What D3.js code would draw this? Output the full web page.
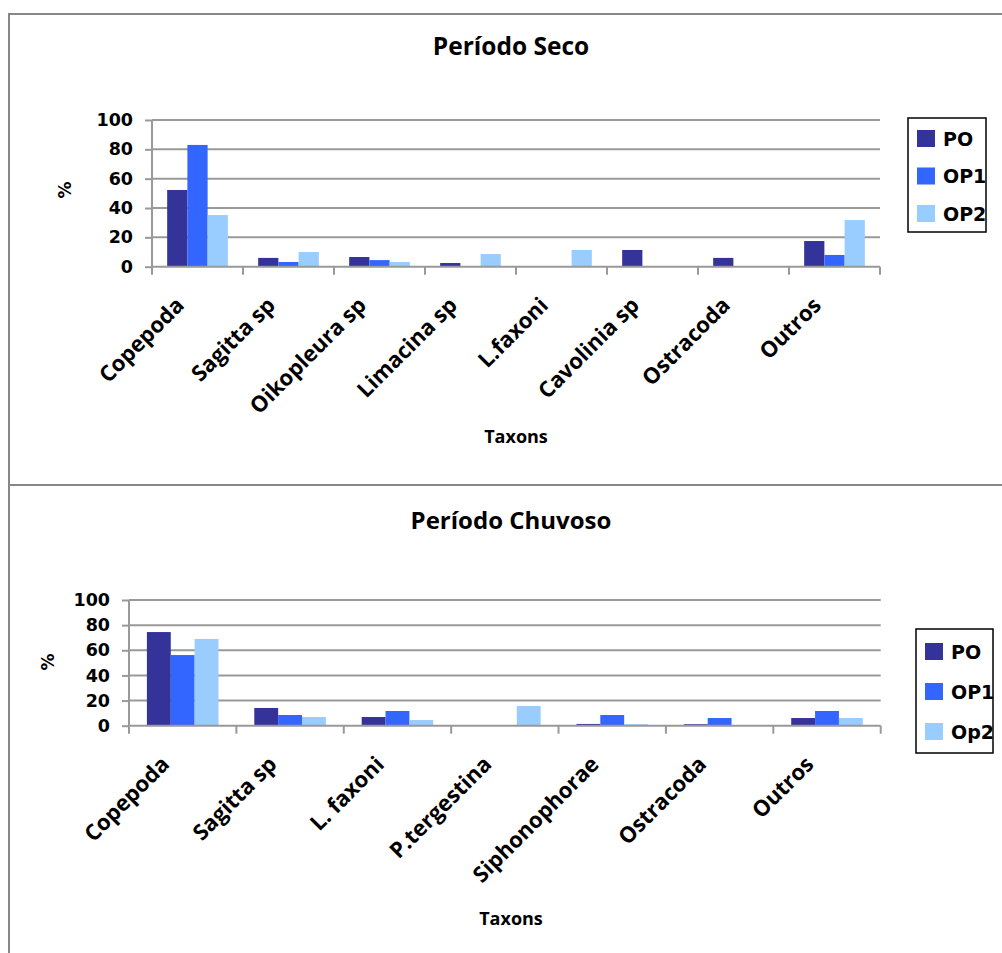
<!DOCTYPE html>
<html>
<head>
<meta charset="utf-8">
<script src="https://cdn.jsdelivr.net/npm/d3@7/dist/d3.min.js"></script>
<style>
  html, body { margin: 0; padding: 0; background: #fff; }
  svg { display: block; }
  .tick-label { font-family: "DejaVu Sans", Verdana, sans-serif; font-weight: bold; }
  .cat-label { font-family: "Open Sans", sans-serif; font-weight: bold; }
  .title { font-family: "Open Sans", sans-serif; font-weight: bold; }
</style>
</head>
<body>
<svg id="chart" width="1002" height="953"></svg>
<script>
// Dry season (Período Seco)
const taxonsSeco = ["Copepoda", "Sagitta sp", "Oikopleura sp", "Limacina sp", "L.faxoni", "Cavolinia sp", "Ostracoda", "Outros"];
const poSeco  = [52.3, 6.0, 6.6, 2.5, 0, 11.4, 6.0, 17.5];
const op1Seco = [83.0, 3.2, 4.5, 0, 0, 0, 0, 8.0];
const op2Seco = [35.2, 10.0, 3.2, 8.6, 11.4, 0, 0, 31.8];
const seriesSeco = ["PO", "OP1", "OP2"];

// Rainy season (Período Chuvoso)
const taxonsChuvoso = ["Copepoda", "Sagitta sp", "L. faxoni", "P.tergestina", "Siphonophorae", "Ostracoda", "Outros"];
const poChuvoso  = [74.5, 14.1, 6.9, 0, 1.4, 1.2, 6.1];
const op1Chuvoso = [56.2, 8.5, 11.7, 0, 8.5, 6.1, 11.7];
const op2Chuvoso = [69.0, 6.9, 4.5, 15.7, 1.2, 0, 6.1];
const seriesChuvoso = ["PO", "OP1", "Op2"];

const yTicks = [0, 20, 40, 60, 80, 100];
const colors = ["#333399", "#3366FF", "#99CCFF"];

const svg = d3.select("#chart");
const gridColor = "#999";

// outer frame lines of the two stacked chart areas
svg.append("line").attr("x1", 9).attr("x2", 9).attr("y1", 13).attr("y2", 953)
  .attr("stroke", "#888").attr("stroke-width", 2);
svg.append("line").attr("x1", 8).attr("x2", 1002).attr("y1", 14).attr("y2", 14)
  .attr("stroke", "#888").attr("stroke-width", 2);
svg.append("line").attr("x1", 8).attr("x2", 1002).attr("y1", 485).attr("y2", 485)
  .attr("stroke", "#888").attr("stroke-width", 2);

function drawPanel(cfg) {
  const g = svg.append("g");
  const seriesValues = cfg.values;
  const rows = cfg.categories.map((c, i) => ({
    category: c,
    vals: cfg.series.map((s, j) => ({ key: s, idx: j, value: seriesValues[j][i] }))
  }));

  const x = d3.scaleBand().domain(cfg.categories).range([cfg.left, cfg.right]).padding(0);
  const xInner = d3.scaleBand().domain(cfg.series).range([0, x.bandwidth()])
    .paddingInner(0).paddingOuter(0.75);
  const y = d3.scaleLinear().domain([0, 100]).range([cfg.bottom, cfg.top]);

  // horizontal gridlines
  g.selectAll("line.grid").data(yTicks.filter(t => t > 0)).enter().append("line")
    .attr("x1", cfg.left).attr("x2", cfg.right)
    .attr("y1", d => y(d)).attr("y2", d => y(d))
    .attr("stroke", gridColor).attr("stroke-width", 2);

  // bars
  const groups = g.selectAll("g.cat").data(rows).enter().append("g")
    .attr("transform", d => `translate(${x(d.category)},0)`);
  groups.selectAll("rect").data(d => d.vals).enter().append("rect")
    .attr("x", d => xInner(d.key))
    .attr("width", xInner.bandwidth())
    .attr("y", d => y(d.value))
    .attr("height", d => y(0) - y(d.value))
    .attr("fill", d => colors[d.idx]);

  // y axis
  const yAxis = d3.axisLeft(y).tickValues(yTicks).tickSize(7).tickPadding(12);
  const ya = g.append("g").attr("transform", `translate(${cfg.left},0)`).call(yAxis);
  ya.select(".domain").attr("stroke", gridColor).attr("stroke-width", 2)
    .attr("d", `M0,${cfg.top}V${cfg.bottom}`);
  ya.selectAll(".tick line").attr("stroke", gridColor).attr("stroke-width", 2);
  ya.selectAll(".tick text").attr("class", "tick-label").attr("font-size", 17.5)
    .attr("fill", "#000");

  // x axis line and category boundary ticks
  g.append("line").attr("x1", cfg.left).attr("x2", cfg.right)
    .attr("y1", y(0)).attr("y2", y(0)).attr("stroke", gridColor).attr("stroke-width", 2);
  const bounds = cfg.categories.map(c => x(c)).concat([cfg.right]);
  g.selectAll("line.xt").data(bounds).enter().append("line")
    .attr("x1", d => d).attr("x2", d => d)
    .attr("y1", y(0)).attr("y2", y(0) + 8)
    .attr("stroke", gridColor).attr("stroke-width", 2);

  // rotated category labels
  g.selectAll("text.cat").data(cfg.categories).enter().append("text")
    .attr("class", "cat-label")
    .attr("font-size", 22)
    .attr("text-anchor", "end")
    .attr("transform", d => `translate(${x(d) + x.bandwidth() / 2 - 12},${y(0) + 40}) rotate(-45)`)
    .text(d => d);

  // title
  g.append("text").attr("class", "title").attr("font-size", cfg.titleSize)
    .attr("text-anchor", "middle").attr("x", 511).attr("y", cfg.titleY).text(cfg.title);

  // axis titles
  g.append("text").attr("class", "title").attr("font-size", 18)
    .attr("text-anchor", "middle").attr("x", cfg.xTitleX).attr("y", cfg.xTitleY).text("Taxons");
  g.append("text").attr("class", "tick-label").attr("font-size", 17)
    .attr("text-anchor", "middle")
    .attr("transform", `translate(${cfg.pctX + 6},${cfg.pctY}) rotate(-90)`).text("%");

  // legend
  const lg = g.append("g");
  lg.append("rect").attr("x", cfg.legend.x).attr("y", cfg.legend.y)
    .attr("width", cfg.legend.w).attr("height", cfg.legend.h)
    .attr("fill", "#fff").attr("stroke", "#000").attr("stroke-width", 1.5);
  const items = lg.selectAll("g.item").data(cfg.series).enter().append("g")
    .attr("transform", (d, i) => `translate(${cfg.legend.x + 9},${cfg.legend.y + cfg.legend.first + i * cfg.legend.step})`);
  items.append("rect").attr("width", 18).attr("height", 17)
    .attr("fill", (d, i) => colors[i]);
  items.append("text").attr("class", "tick-label").attr("font-size", 19)
    .attr("x", 26).attr("y", 15.5).attr("fill", "#000").text(d => d);
}

drawPanel({
  categories: taxonsSeco, series: seriesSeco, values: [poSeco, op1Seco, op2Seco],
  left: 152, right: 880, top: 120, bottom: 266.7,
  title: "Período Seco", titleSize: 24.5, titleY: 55, xTitleX: 516, xTitleY: 443, pctX: 65, pctY: 190,
  legend: { x: 908, y: 118, w: 78, h: 114, first: 12, step: 37.5 }
});

drawPanel({
  categories: taxonsChuvoso, series: seriesChuvoso, values: [poChuvoso, op1Chuvoso, op2Chuvoso],
  left: 129, right: 880.7, top: 600, bottom: 725.7,
  title: "Período Chuvoso", titleSize: 24, titleY: 529, xTitleX: 511, xTitleY: 925, pctX: 48, pctY: 662,
  legend: { x: 916, y: 629, w: 77, h: 124, first: 14, step: 40 }
});
</script>
</body>
</html>
